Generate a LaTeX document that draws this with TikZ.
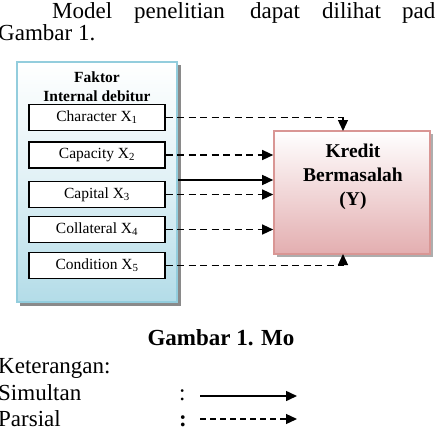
\documentclass[tikz,border=0pt]{standalone}
\usepackage{fontspec}
\setmainfont{Liberation Serif}
\usetikzlibrary{arrows.meta,calc}
\definecolor{panelborder}{HTML}{93CDDD}
\definecolor{panelfill}{HTML}{B3DCE8}
\definecolor{kborder}{HTML}{D99694}
\definecolor{kfill}{HTML}{E3AEB0}
\definecolor{shadowgray}{HTML}{8A8A8A}
\tikzset{
  body/.style={font=\fontsize{23}{26}\selectfont, inner sep=0pt, anchor=base west},
  tip/.style={-{Triangle[length=11pt,width=10pt]}},
  parsial/.style={draw, line width=1.3pt, dash pattern=on 7pt off 4.5pt, tip},
  simultan/.style={draw, line width=1.5pt, tip},
  factorbox/.style={draw, line width=1.4pt, fill=white, minimum width=136pt, minimum height=26pt, inner sep=0pt, font=\fontsize{15.5}{17}\selectfont},
}
\begin{document}
\begin{tikzpicture}[x=1pt,y=-1pt]
\useasboundingbox (0,0) rectangle (437,437);
% top text
\node[body] (w1) at (52,18) {Model};
\node[body] (w2) at (134,18) {penelitian};
\node[body] (w3) at (250,18) {dapat};
\node[body] (w4) at (322,18) {dilihat};
\node[body] (w5) at (402,18) {pad};
\node[body] (w6) at (-2,40) {Gambar 1.};
% panel shadow and panel
\fill[shadowgray] (20,65) rectangle (181,306);
\node[draw=panelborder, line width=2.2pt, top color=white, bottom color=panelfill, middle color=white!60!panelfill, minimum width=160pt, minimum height=240pt, inner sep=0pt] (panel) at (97,182) {};
\node[font=\bfseries\fontsize{15.5}{19}\selectfont, align=center, inner sep=0pt] (ftitle) at (97,87) {Faktor\\Internal debitur};
\node[factorbox] (b1) at (97,117.5) {Character X\textsubscript{1}};
\node[factorbox] (b2) at (97,155) {Capacity X\textsubscript{2}};
\node[factorbox] (b3) at (97,194.5) {Capital X\textsubscript{3}};
\node[factorbox] (b4) at (97,229.5) {Collateral X\textsubscript{4}};
\node[factorbox] (b5) at (97,265.5) {Condition X\textsubscript{5}};
% kredit box
\fill[shadowgray!70] (277,134) rectangle (433,257);
\node[draw=kborder, line width=1.6pt, top color=white, bottom color=kfill, minimum width=156pt, minimum height=123pt, inner sep=0pt] (kredit) at (352,192.5) {};
\node[font=\bfseries\fontsize{19.5}{24}\selectfont, align=center, inner sep=0pt] (ktext) at (353,177) {Kredit\\Bermasalah\\(Y)};
% connectors
\coordinate (kt) at (343,131);
\coordinate (kb) at (343,254);
\coordinate (s1) at (178,180);
\draw[parsial] (b1.east) -| (kt);
\draw[parsial] (b2.east) -- (b2.east -| kredit.west);
\draw[simultan] (s1) -- (s1 -| kredit.west);
\draw[parsial] (b3.east) -- (b3.east -| kredit.west);
\draw[parsial] (b4.east) -- (b4.east -| kredit.west);
\draw[parsial] (b5.east) -| (kb);
% caption and legend
\node[font=\bfseries\fontsize{23}{26}\selectfont, inner sep=0pt, anchor=base] (cap) at (221,345) {Gambar 1. Mo};
\node[body] (ket) at (-2,373) {Keterangan:};
\node[body] (sim) at (-2,400) {Simultan};
\node[body] (par) at (-2,426) {Parsial};
\node[body] (c1) at (179,400) {:};
\node[body] (c2) at (179,426) {\bfseries :};
\coordinate (la1) at (200,396);
\coordinate (la2) at (297,396);
\coordinate (lb1) at (200,419);
\coordinate (lb2) at (297,419);
\draw[simultan] (la1) -- (la2);
\draw[parsial, dash pattern=on 6pt off 4pt] (lb1) -- (lb2);
\end{tikzpicture}
\end{document}
